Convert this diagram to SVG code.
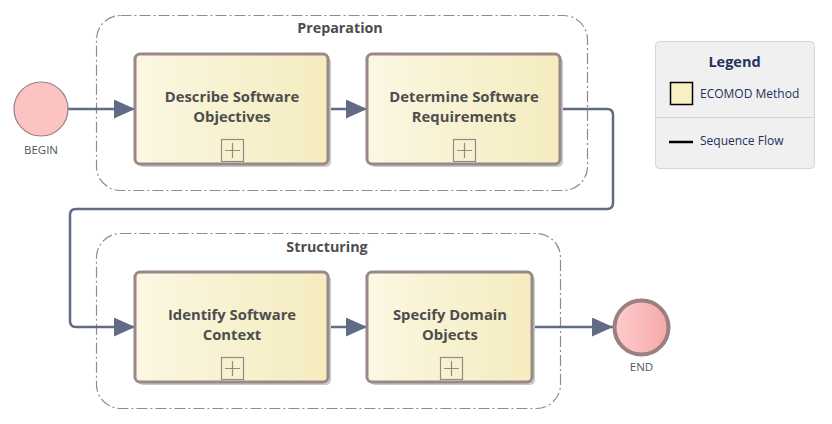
<svg xmlns="http://www.w3.org/2000/svg" width="832" height="424" viewBox="0 0 832 424">
<style>
.grp{fill:none;stroke:#9c8686;stroke-width:1.2;stroke-dasharray:11 3 2 3}
.glbl{font-family:"Open Sans","Liberation Sans",sans-serif;font-weight:bold;font-size:14.3px;fill:#4d4d4d;text-anchor:middle}
.node{fill:url(#ng);stroke:#9a8888;stroke-width:3}
.shadow{fill:#c9c9c9}
.nlbl{font-family:"Open Sans","Liberation Sans",sans-serif;font-weight:bold;font-size:14.8px;fill:#4d4d4d;text-anchor:middle}
.plus{fill:none;stroke:#9a8888;stroke-width:1.2}
.flow{fill:none;stroke:#616b85;stroke-width:2.5;marker-end:url(#ah)}
.elbl{font-family:"Open Sans","Liberation Sans",sans-serif;font-size:11.5px;fill:#555;text-anchor:middle}
.ltxt{font-family:"Open Sans","Liberation Sans",sans-serif;font-size:12px;fill:#22305a}
</style>
<defs>
<linearGradient id="ng" x1="0" y1="0" x2="1" y2="0">
<stop offset="0" stop-color="#fbf7e2"/>
<stop offset="1" stop-color="#f5ecbf"/>
</linearGradient>
<linearGradient id="eg" x1="0" y1="0" x2="1" y2="0">
<stop offset="0" stop-color="#fdcccc"/>
<stop offset="1" stop-color="#f7a8a8"/>
</linearGradient>
<marker id="ah" markerUnits="userSpaceOnUse" markerWidth="22" markerHeight="20" refX="21" refY="9.5" orient="auto">
<path d="M0,0 L21,9.5 L0,19 Z" fill="#616b85"/>
</marker>
</defs>

<g id="group-preparation">
<rect class="grp" x="96.5" y="15.5" width="491" height="175" rx="24" ry="24"/>
<text class="glbl" x="340" y="33">Preparation</text>
</g>
<g id="group-structuring">
<rect class="grp" x="96.5" y="233.5" width="464" height="175" rx="24" ry="24"/>
<text class="glbl" x="327" y="252">Structuring</text>
</g>

<g id="connectors">
<path class="flow" d="M68,109 L135,109"/>
<path class="flow" d="M328,109 L367,109"/>
<path class="flow" d="M560,109 L607,109 Q613,109 613,115 L613,203 Q613,209 607,209 L76,209 Q70,209 70,215 L70,321 Q70,327 76,327 L135,327"/>
<path class="flow" d="M328,327 L367,327"/>
<path class="flow" d="M532,327 L613,327"/>
</g>

<g id="begin">
<circle cx="41" cy="109" r="27" fill="#fcc3c3" stroke="#9a8080" stroke-width="1.2"/>
<text class="elbl" x="41" y="154">BEGIN</text>
</g>

<g id="describe-objectives">
<rect class="shadow" x="138" y="57" width="193" height="110" rx="5"/>
<rect class="node" x="135" y="54" width="193" height="110" rx="5"/>
<text class="nlbl" x="232" y="102">Describe Software</text>
<text class="nlbl" x="232" y="122">Objectives</text>
<rect class="plus" x="221.5" y="139.5" width="22" height="22"/>
<path class="plus" d="M225,150.5 H240 M232.5,143 V158"/>
</g>

<g id="determine-requirements">
<rect class="shadow" x="370" y="57" width="193" height="110" rx="5"/>
<rect class="node" x="367" y="54" width="193" height="110" rx="5"/>
<text class="nlbl" x="464" y="102">Determine Software</text>
<text class="nlbl" x="464" y="122">Requirements</text>
<rect class="plus" x="453.5" y="139.5" width="22" height="22"/>
<path class="plus" d="M457,150.5 H472 M464.5,143 V158"/>
</g>

<g id="identify-context">
<rect class="shadow" x="138" y="275" width="193" height="110" rx="5"/>
<rect class="node" x="135" y="272" width="193" height="110" rx="5"/>
<text class="nlbl" x="232" y="320">Identify Software</text>
<text class="nlbl" x="232" y="340">Context</text>
<rect class="plus" x="221.5" y="357.5" width="22" height="22"/>
<path class="plus" d="M225,368.5 H240 M232.5,361 V376"/>
</g>

<g id="specify-domain-objects">
<rect class="shadow" x="370" y="275" width="165" height="110" rx="5"/>
<rect class="node" x="367" y="272" width="165" height="110" rx="5"/>
<text class="nlbl" x="450" y="320">Specify Domain</text>
<text class="nlbl" x="450" y="340">Objects</text>
<rect class="plus" x="440.5" y="357.5" width="22" height="22"/>
<path class="plus" d="M444,368.5 H459 M451.5,361 V376"/>
</g>

<g id="end">
<circle cx="641.5" cy="327.5" r="27" fill="url(#eg)" stroke="#9a8080" stroke-width="4"/>
<text class="elbl" x="641.5" y="371">END</text>
</g>

<g id="legend">
<rect x="655.5" y="41.5" width="159" height="127" rx="4" fill="#f0f0f0" stroke="#d6d6d6" stroke-width="1"/>
<text x="734.5" y="67" font-family="'Open Sans','Liberation Sans',sans-serif" font-weight="bold" font-size="14.5" fill="#1f3360" text-anchor="middle">Legend</text>
<rect x="670.5" y="82.5" width="22" height="22" fill="#f7f0c3" stroke="#000" stroke-width="1.5"/>
<text class="ltxt" x="700" y="97.5">ECOMOD Method</text>
<line x1="655.5" y1="117.5" x2="814.5" y2="117.5" stroke="#d3d3d3" stroke-width="1"/>
<line x1="669" y1="142" x2="693" y2="142" stroke="#000" stroke-width="2.5"/>
<text class="ltxt" x="700" y="145">Sequence Flow</text>
</g>
</svg>
